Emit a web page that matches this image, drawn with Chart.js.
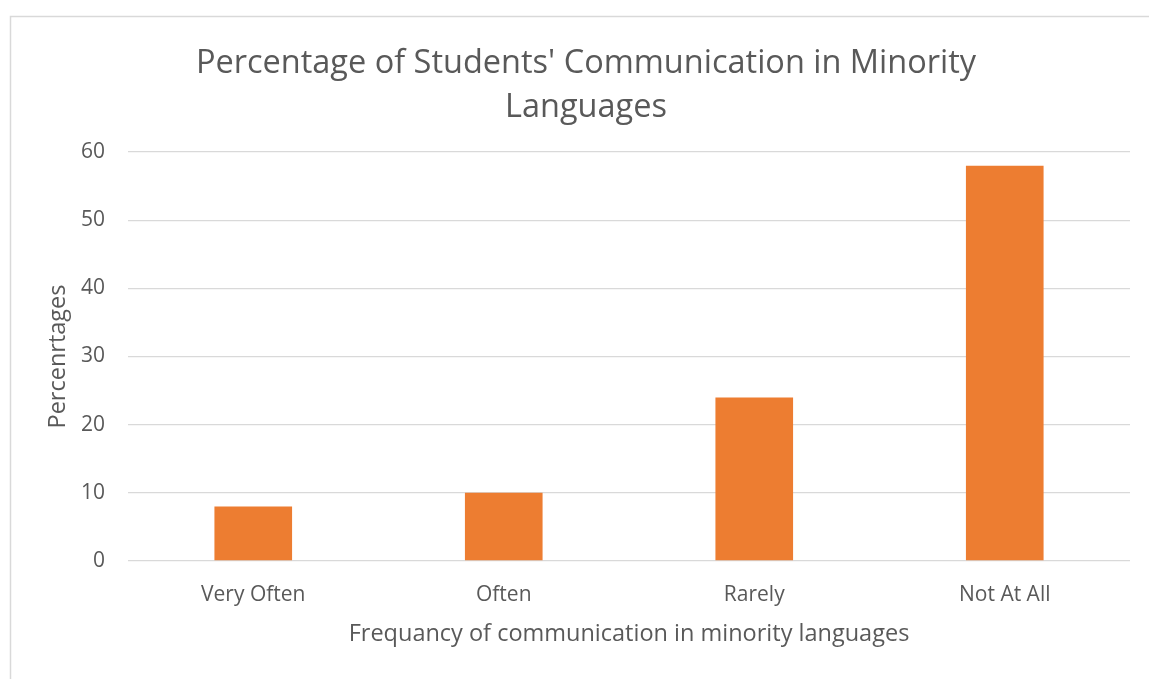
<!DOCTYPE html>
<html>
<head>
<meta charset="utf-8">
<script src="https://cdn.jsdelivr.net/npm/chart.js@4.4.1/dist/chart.umd.min.js"></script>
<style>
  html, body { margin: 0; padding: 0; background: #fff; }
  #wrap { position: relative; width: 1149px; height: 679px; }
</style>
</head>
<body>
<div id="wrap"><canvas id="chart" width="1149" height="679"></canvas></div>
<script>
// Frequency of communication in minority languages (percent of students)
const categories = ['Very Often', 'Often', 'Rarely', 'Not At All'];
const percentages = [8, 10, 24, 58];
const yTicks = [0, 10, 20, 30, 40, 50, 60];

const titleLines = ["Percentage of Students' Communication in Minority", 'Languages'];
const xTitle = 'Frequancy of communication in minority languages';
const yTitle = 'Percenrtages';

const FONT = "'Open Sans', sans-serif";
const TEXT = '#595959';
const GRID = '#d9d9d9';

// thin frame around the chart object
const framePlugin = {
  id: 'frame',
  beforeDraw(chart) {
    const ctx = chart.ctx;
    ctx.save();
    ctx.fillStyle = '#fff';
    ctx.fillRect(0, 0, chart.width, chart.height);
    ctx.strokeStyle = GRID;
    ctx.lineWidth = 1.5;
    ctx.beginPath();
    ctx.moveTo(10.5, chart.height);
    ctx.lineTo(10.5, 16.5);
    ctx.lineTo(chart.width, 16.5);
    ctx.stroke();
    ctx.restore();
  }
};

new Chart(document.getElementById('chart'), {
  type: 'bar',
  data: {
    labels: categories,
    datasets: [{
      data: percentages,
      backgroundColor: '#ED7D31',
      borderWidth: 0,
      categoryPercentage: 1,
      barPercentage: 0.31
    }]
  },
  options: {
    responsive: false,
    animation: false,
    layout: { padding: { left: 42, top: 0, right: 19, bottom: 0 } },
    plugins: {
      legend: { display: false },
      tooltip: { enabled: false },
      title: {
        display: true,
        text: titleLines,
        color: TEXT,
        font: { family: FONT, size: 32.5, weight: 'normal', lineHeight: 44 / 32.5 },
        padding: { top: 42, bottom: 22 }
      }
    },
    scales: {
      x: {
        grid: { display: false },
        border: { display: false },
        ticks: {
          color: TEXT,
          font: { family: FONT, size: 21 },
          padding: 13,
          maxRotation: 0
        },
        title: {
          display: true,
          text: xTitle,
          color: TEXT,
          font: { family: FONT, size: 23.5 },
          padding: { top: 0, bottom: 31 }
        },
        afterFit(scale) { scale.height = 118; }
      },
      y: {
        min: 0,
        max: 60,
        afterBuildTicks(scale) { scale.ticks = yTicks.map(v => ({ value: v })); },
        grid: { color: GRID, lineWidth: 1.3, drawTicks: false },
        border: { display: false },
        ticks: {
          color: TEXT,
          font: { family: FONT, size: 21 },
          padding: 23
        },
        title: {
          display: true,
          text: yTitle,
          color: TEXT,
          font: { family: FONT, size: 23.5 },
          padding: { top: 2, bottom: 0 }
        },
        afterFit(scale) { scale.width = 86; }
      }
    }
  },
  plugins: [framePlugin]
});
</script>
</body>
</html>
